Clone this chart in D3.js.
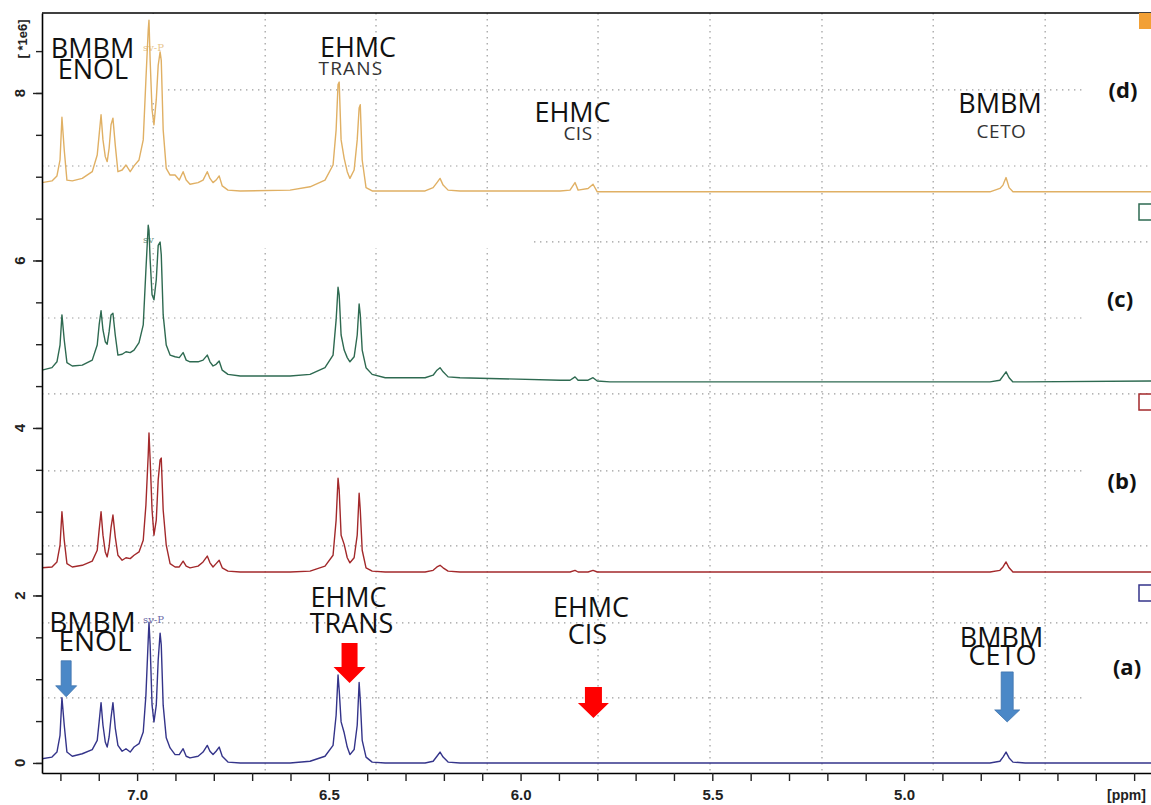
<!DOCTYPE html>
<html><head><meta charset="utf-8">
<script src="https://cdn.jsdelivr.net/npm/d3@7"></script>
<style>body{margin:0;background:#fff}svg{display:block}</style>
</head><body>
<svg id="chart" width="1151" height="805"></svg>
<script>
// ---- DATA (chemical shift in ppm, intensity in 1e6 units) ----
const ppm = [7.248,7.222,7.209,7.201,7.196,7.190,7.183,7.169,7.143,7.117,
7.104,7.099,7.094,7.089,7.083,7.078,7.073,7.068,7.063,7.057,
7.050,7.039,7.029,7.018,7.008,6.995,6.984,6.977,6.971,6.969,
6.966,6.961,6.956,6.950,6.945,6.940,6.937,6.932,6.924,6.914,
6.901,6.890,6.880,6.872,6.862,6.841,6.828,6.817,6.810,6.802,
6.794,6.786,6.778,6.763,6.731,6.601,6.549,6.510,6.489,6.481,
6.476,6.473,6.468,6.460,6.452,6.445,6.434,6.426,6.421,6.418,
6.413,6.403,6.387,6.353,6.249,6.228,6.218,6.210,6.202,6.189,
6.158,5.897,5.871,5.858,5.850,5.824,5.811,5.800,5.767,4.776,
4.750,4.742,4.734,4.726,4.716,4.684,4.356];

const specA = [0.05,0.07,0.13,0.33,0.78,0.45,0.13,0.08,0.11,0.16,
0.27,0.49,0.72,0.45,0.25,0.19,0.31,0.54,0.72,0.42,
0.21,0.14,0.17,0.13,0.19,0.23,0.37,0.81,1.47,1.68,
1.41,0.69,0.49,0.69,1.23,1.55,1.41,0.69,0.30,0.18,
0.10,0.10,0.17,0.08,0.06,0.08,0.13,0.21,0.14,0.10,
0.14,0.19,0.08,0.01,0,0,0.02,0.08,0.21,0.57,
1.05,0.87,0.49,0.36,0.19,0.10,0.16,0.45,0.96,0.75,
0.27,0.07,0.01,0,0,0.02,0.08,0.13,0.07,0.01,
0,0,0,0,0,0,0,0,0,0,
0.02,0.07,0.13,0.06,0.01,0,0];

const specB = [2.33,2.34,2.40,2.60,3.00,2.66,2.38,2.34,2.36,2.41,
2.54,2.78,3.00,2.72,2.52,2.46,2.58,2.81,2.96,2.70,
2.48,2.42,2.45,2.44,2.48,2.52,2.66,3.08,3.68,3.94,
3.62,3.02,2.72,2.90,3.38,3.62,3.64,3.02,2.60,2.38,
2.34,2.34,2.41,2.35,2.33,2.35,2.40,2.47,2.39,2.34,
2.38,2.42,2.33,2.29,2.28,2.28,2.29,2.35,2.48,2.90,
3.40,3.26,2.72,2.61,2.45,2.39,2.45,2.72,3.22,3.02,
2.54,2.33,2.29,2.28,2.28,2.30,2.34,2.36,2.33,2.29,
2.28,2.28,2.28,2.30,2.28,2.28,2.30,2.28,2.28,2.28,
2.30,2.34,2.40,2.33,2.28,2.28,2.28];

const specC = [4.69,4.72,4.79,4.99,5.35,5.05,4.78,4.74,4.75,4.81,
4.99,5.23,5.40,5.17,5.03,5.00,5.15,5.35,5.37,5.11,
4.87,4.88,4.91,4.90,4.93,5.02,5.23,5.89,6.42,6.36,
6.01,5.59,5.53,5.77,6.18,6.22,6.07,5.35,4.99,4.87,
4.85,4.84,4.90,4.81,4.79,4.79,4.81,4.87,4.79,4.74,
4.76,4.80,4.69,4.64,4.62,4.62,4.64,4.72,4.87,5.29,
5.68,5.59,5.11,4.93,4.84,4.79,4.85,5.11,5.48,5.35,
4.93,4.72,4.64,4.60,4.60,4.63,4.69,4.72,4.67,4.61,
4.60,4.57,4.57,4.61,4.57,4.57,4.60,4.56,4.55,4.55,
4.57,4.62,4.67,4.60,4.55,4.55,4.56];

const specD = [6.93,6.95,7.01,7.20,7.71,7.32,6.96,6.95,6.98,7.06,
7.26,7.50,7.74,7.44,7.24,7.18,7.34,7.62,7.70,7.38,
7.06,7.08,7.14,7.06,7.13,7.20,7.44,8.16,8.75,8.87,
8.39,7.80,7.62,7.92,8.33,8.49,8.39,7.56,7.10,7.02,
7.02,6.96,7.06,6.96,6.91,6.93,6.96,7.06,6.98,6.93,
6.96,7.01,6.89,6.84,6.83,6.84,6.88,6.96,7.14,7.56,
8.10,8.13,7.44,7.22,7.06,6.98,7.08,7.44,7.82,7.86,
7.20,6.87,6.83,6.83,6.83,6.87,6.93,6.98,6.90,6.84,
6.83,6.83,6.84,6.93,6.84,6.86,6.91,6.82,6.82,6.82,
6.86,6.90,6.99,6.87,6.82,6.82,6.82];

const seriesLabels = ["(a)","(b)","(c)","(d)"];
const xTickLabels = [7.0,6.5,6.0,5.5,5.0];
const xMinorTicks = [7.2,7.1,7.0,6.9,6.8,6.7,6.6,6.5,6.4,6.3,6.2,6.1,6.0,5.9,5.8,5.7,5.6,5.5,5.4,5.3,5.2,5.1,5.0,4.9,4.8,4.7,4.6,4.5,4.4];
const yTickLabels = [0,2,4,6,8];
const yMinorTicks = [0,0.5,1,1.5,2,2.5,3,3.5,4,4.5,5,5.5,6,6.5,7,7.5,8,8.5];
const xGrid = [6.958,6.666,6.377,6.087,5.798,5.506,5.214,4.924,4.632];
const yGrid = [0.776,1.672,2.591,3.487,4.406,5.313,6.221,7.128,8.036];

// ---- LAYOUT ----
const svg = d3.select("#chart");
const L = 42, R = 1151, T = 13, B = 773;
const x = d3.scaleLinear().domain([7.248, 4.356]).range([L, R]);
const y = d3.scaleLinear().domain([-0.12, 8.955]).range([B, T]);

const colors = {a:"#34348a", b:"#a3292b", c:"#2e6a51", d:"#e0b064"};
const series = [
  {key:"d", vals:specD},
  {key:"c", vals:specC},
  {key:"b", vals:specB},
  {key:"a", vals:specA}
];

// grid
const grid = svg.append("g").attr("stroke","#9c9c9c").attr("stroke-width",1.2)
  .attr("stroke-dasharray","1.4,4.6");
grid.selectAll("line.v").data(xGrid).join("line").attr("class","v")
  .attr("x1",d=>x(d)).attr("x2",d=>x(d)).attr("y1",T).attr("y2",B);
grid.selectAll("line.h").data(yGrid).join("line").attr("class","h")
  .attr("x1",L).attr("x2",R).attr("y1",d=>y(d)).attr("y2",d=>y(d));

// white masks from the pasted composite
const masks = [[L+1,T+1,123,88],[L+1,208,490,40],
  [1085,62,66,60],[1085,272,66,56],[1085,455,66,50],[1085,640,66,64]];
svg.append("g").selectAll("rect").data(masks).join("rect")
  .attr("x",d=>d[0]).attr("y",d=>d[1]).attr("width",d=>d[2]).attr("height",d=>d[3])
  .attr("fill","#fff");

// clip
svg.append("defs").append("clipPath").attr("id","plot")
  .append("rect").attr("x",L).attr("y",T).attr("width",R-L).attr("height",B-T);

const line = d3.line().x((d,i)=>x(ppm[i])).y(d=>y(d));
svg.append("g").attr("clip-path","url(#plot)")
  .selectAll("path").data(series).join("path")
  .attr("d",d=>line(d.vals)).attr("fill","none")
  .attr("stroke",d=>colors[d.key]).attr("stroke-width",1.4)
  .attr("stroke-linejoin","round");

// axes
const xAxis = svg.append("g").attr("transform",`translate(0,${B})`)
  .call(d3.axisBottom(x).tickValues(xMinorTicks).tickSize(8).tickSizeOuter(0).tickPadding(8)
    .tickFormat(d => xTickLabels.some(v=>Math.abs(v-d)<1e-6) ? d.toFixed(1) : ""));
xAxis.select(".domain").attr("stroke","#000").attr("stroke-width",1.6);
xAxis.selectAll(".tick line").attr("stroke","#222").attr("stroke-width",1.4);
xAxis.selectAll("text").attr("font-family","Liberation Sans, Arial, sans-serif")
  .attr("font-size",15).attr("font-weight","bold").attr("fill","#222");

const yAxis = svg.append("g").attr("transform",`translate(${L},0)`)
  .call(d3.axisLeft(y).tickValues(yMinorTicks).tickSize(6).tickSizeOuter(0).tickFormat(""));
yAxis.select(".domain").attr("stroke","#000").attr("stroke-width",1.6);
yAxis.selectAll(".tick line").attr("stroke","#222").attr("stroke-width",1.4);
const yMaj = svg.append("g").attr("transform",`translate(${L},0)`)
  .call(d3.axisLeft(y).tickValues(yTickLabels).tickSize(9).tickFormat(""));
yMaj.select(".domain").remove();
yMaj.selectAll(".tick line").attr("stroke","#222").attr("stroke-width",1.4);

svg.append("g").selectAll("text").data(yTickLabels).join("text")
  .attr("transform",d=>`translate(25,${y(d)}) rotate(-90)`)
  .attr("text-anchor","middle")
  .attr("font-family","Liberation Sans, Arial, sans-serif").attr("font-size",15)
  .attr("font-weight","bold").attr("fill","#222").text(d=>d);

svg.append("text").attr("transform","translate(27,39) rotate(-90)")
  .attr("text-anchor","middle").attr("font-family","Liberation Sans, Arial, sans-serif")
  .attr("font-size",13).attr("font-weight","bold").attr("fill","#222").text("[ *1e6]");

svg.append("text").attr("x",1107).attr("y",800)
  .attr("font-family","Liberation Sans, Arial, sans-serif").attr("font-size",14)
  .attr("font-weight","bold").attr("fill","#222").text("[ppm]");

// top frame
svg.append("line").attr("x1",L).attr("x2",R).attr("y1",T).attr("y2",T)
  .attr("stroke","#000").attr("stroke-width",1.6);

// faint instrument marks
const marks = [{t:"sv-P",x:143,y:51,c:colors.d},{t:"sv",x:143,y:243,c:colors.c},{t:"sv-P",x:143,y:623,c:colors.a}];
svg.append("g").selectAll("text").data(marks).join("text")
  .attr("x",d=>d.x).attr("y",d=>d.y).attr("fill",d=>d.c).attr("opacity",0.75)
  .attr("font-family","DejaVu Serif, serif").attr("font-size",10).text(d=>d.t);

// legend squares on the right
const sq = [{k:"d",y:13,fill:"#f2a035"},{k:"c",y:204,fill:"none"},{k:"b",y:394,fill:"none"},{k:"a",y:585,fill:"none"}];
svg.append("g").selectAll("rect").data(sq).join("rect")
  .attr("x",1139).attr("y",d=>d.y).attr("width",17).attr("height",16)
  .attr("fill",d=>d.fill==="none"?"#fff":d.fill)
  .attr("stroke",d=>d.fill==="none"?colors[d.k]:"none").attr("stroke-width",1.5);

// panel labels
const panelPos = [{t:"(a)",x:1127,y:675},{t:"(b)",x:1122,y:489},{t:"(c)",x:1120,y:307},{t:"(d)",x:1123,y:98}];
svg.append("g").selectAll("text").data(panelPos).join("text")
  .attr("x",d=>d.x).attr("y",d=>d.y).attr("text-anchor","middle")
  .attr("font-family","Open Sans, Lato, sans-serif").attr("font-size",22)
  .attr("font-weight","bold").attr("fill","#111").text(d=>d.t);

// annotation texts
const notes = [
  {t:"BMBM",x:92.5,y:58,s:27,c:"#111"},{t:"ENOL",x:93,y:79,s:27,c:"#111"},
  {t:"EHMC",x:358,y:57,s:27,c:"#111"},{t:"TRANS",x:351,y:75,s:19,c:"#333",ls:1.2},
  {t:"EHMC",x:572.5,y:122,s:27,c:"#111"},{t:"CIS",x:578,y:140,s:19,c:"#333",ls:0.5},
  {t:"BMBM",x:1000,y:113,s:27,c:"#111"},{t:"CETO",x:1001.5,y:138,s:19,c:"#333",ls:0.5},
  {t:"BMBM",x:92.5,y:632,s:28,c:"#111"},{t:"ENOL",x:95,y:651,s:28,c:"#111"},
  {t:"EHMC",x:348.5,y:607,s:27,c:"#111"},{t:"TRANS",x:351.5,y:633,s:27,c:"#111"},
  {t:"EHMC",x:591,y:617,s:27,c:"#111"},{t:"CIS",x:587.5,y:644,s:27,c:"#111"},
  {t:"BMBM",x:1001.5,y:647,s:27,c:"#111"},{t:"CETO",x:1002.5,y:665,s:27,c:"#111"}
];
svg.append("g").selectAll("text").data(notes).join("text")
  .attr("x",d=>d.x).attr("y",d=>d.y).attr("text-anchor","middle")
  .attr("font-family","Open Sans, Lato, sans-serif").attr("font-size",d=>d.s)
  .attr("letter-spacing",d=>d.ls||0).attr("fill",d=>d.c).text(d=>d.t);

// arrows (tip at peak ppm / intensity)
const arrows = [
  {p:7.185,v:0.79,len:36,head:11,sw:5,hw:10.5,c:"#4b88c7"},
  {p:6.446,v:0.955,len:40,head:16,sw:8,hw:16,c:"#ff0000"},
  {p:5.810,v:0.537,len:31,head:15,sw:8.5,hw:15.5,c:"#ff0000"},
  {p:4.731,v:0.49,len:50,head:12,sw:6,hw:12.5,c:"#4b88c7"}
];
svg.append("g").selectAll("path").data(arrows).join("path")
  .attr("d",d=>{
    const cx=x(d.p), tip=y(d.v), top=tip-d.len, hb=tip-d.head;
    return `M${cx-d.sw},${top}L${cx+d.sw},${top}L${cx+d.sw},${hb}L${cx+d.hw},${hb}L${cx},${tip}L${cx-d.hw},${hb}L${cx-d.sw},${hb}Z`;
  })
  .attr("fill",d=>d.c).attr("stroke",d=>d.c==="#4b88c7"?"#3f74ad":"none").attr("stroke-width",0.8);
</script>
</body></html>
